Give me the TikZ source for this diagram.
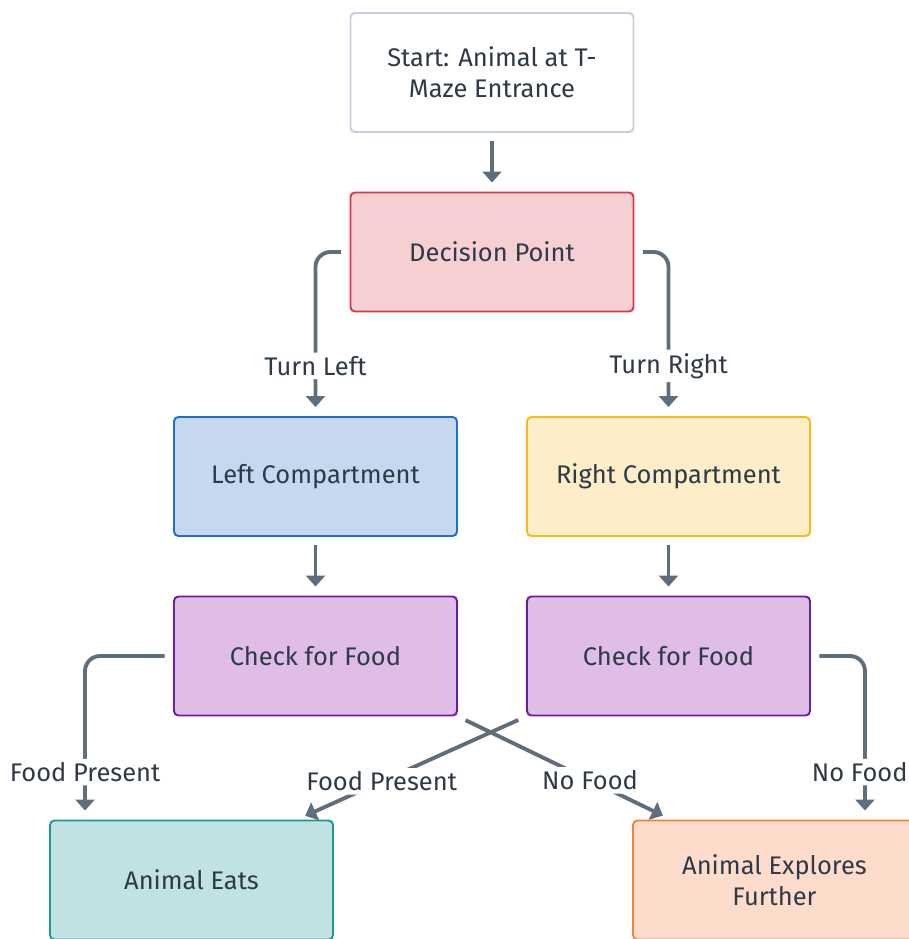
\documentclass[tikz,border=0pt]{standalone}
\usepackage{fontspec}
\setmainfont{Fira Sans}
\usetikzlibrary{arrows.meta, positioning, calc}
\definecolor{linegray}{HTML}{5F6E7D}
\definecolor{inktext}{HTML}{2F3A47}
\definecolor{startline}{HTML}{C5D0DE}
\definecolor{decidefill}{HTML}{F6CFD3}
\definecolor{decideline}{HTML}{D8374B}
\definecolor{leftfill}{HTML}{C6D8EF}
\definecolor{leftline}{HTML}{1A6FD0}
\definecolor{rightfill}{HTML}{FDEDC8}
\definecolor{rightline}{HTML}{FBB917}
\definecolor{checkfill}{HTML}{DFBDE6}
\definecolor{checkline}{HTML}{6A1EA0}
\definecolor{eatsfill}{HTML}{C0E2E2}
\definecolor{eatsline}{HTML}{1A9A94}
\definecolor{explorefill}{HTML}{FDDCCB}
\definecolor{exploreline}{HTML}{F5823A}

\begin{document}
\begin{tikzpicture}[
    box/.style={draw, line width=1.1pt, rounded corners=2.5pt, minimum width=5.66cm, minimum height=2.38cm, align=center, text=inktext, font=\fontsize{14.5}{17.5}\selectfont},
    flow/.style={draw=linegray, line width=2.2pt, -{Triangle[length=0.22cm,width=0.38cm]}, shorten <=0.17cm, shorten >=0.18cm, rounded corners=0.3cm},
    tag/.style={fill=white, text=inktext, font=\fontsize{14.5}{17.5}\selectfont, inner sep=2pt}
  ]
    \useasboundingbox (0,0) rectangle (18.18,-18.78);
    \clip (0,0) rectangle (18.18,-18.78);

    \node[box, draw=startline, fill=white] (start) at (9.84,-1.45) {Start: Animal at T-\\Maze Entrance};
    \node[box, draw=decideline, fill=decidefill] (decide) at (9.84,-5.04) {Decision Point};
    \node[box, draw=leftline, fill=leftfill] (leftc) at (6.31,-9.53) {Left Compartment};
    \node[box, draw=rightline, fill=rightfill] (rightc) at (13.37,-9.53) {Right Compartment};
    \node[box, draw=checkline, fill=checkfill] (checkl) at (6.31,-13.12) {Check for Food};
    \node[box, draw=checkline, fill=checkfill] (checkr) at (13.37,-13.12) {Check for Food};
    \node[box, draw=eatsline, fill=eatsfill] (eats) at (3.83,-17.6) {Animal Eats};
    \node[box, draw=exploreline, fill=explorefill] (explore) at (15.49,-17.6) {Animal Explores\\Further};

    \draw[flow] (start) -- (decide);
    \draw[flow] (decide.west) -| node[tag, pos=0.847] {Turn Left} (leftc.north);
    \draw[flow] (decide.east) -| node[tag, pos=0.847] {Turn Right} (rightc.north);
    \draw[flow] (leftc) -- (checkl);
    \draw[flow] (rightc) -- (checkr);

    \draw[flow] (checkl.west) -| node[tag, pos=0.855] {Food Present} ([xshift=0.72cm]eats.north west);
    \draw[flow] (checkr.east) -| node[tag, pos=0.855, xshift=-3pt] {No Food} ([xshift=-1.04cm]explore.north east);
    \draw[flow] (checkl.south east) -- node[tag, pos=0.62] {No Food} ([xshift=0.78cm]explore.north west);
    \draw[flow] (checkr.south west) -- node[tag, pos=0.63] {Food Present} ([xshift=-0.74cm]eats.north east);
  \end{tikzpicture}
\end{document}
